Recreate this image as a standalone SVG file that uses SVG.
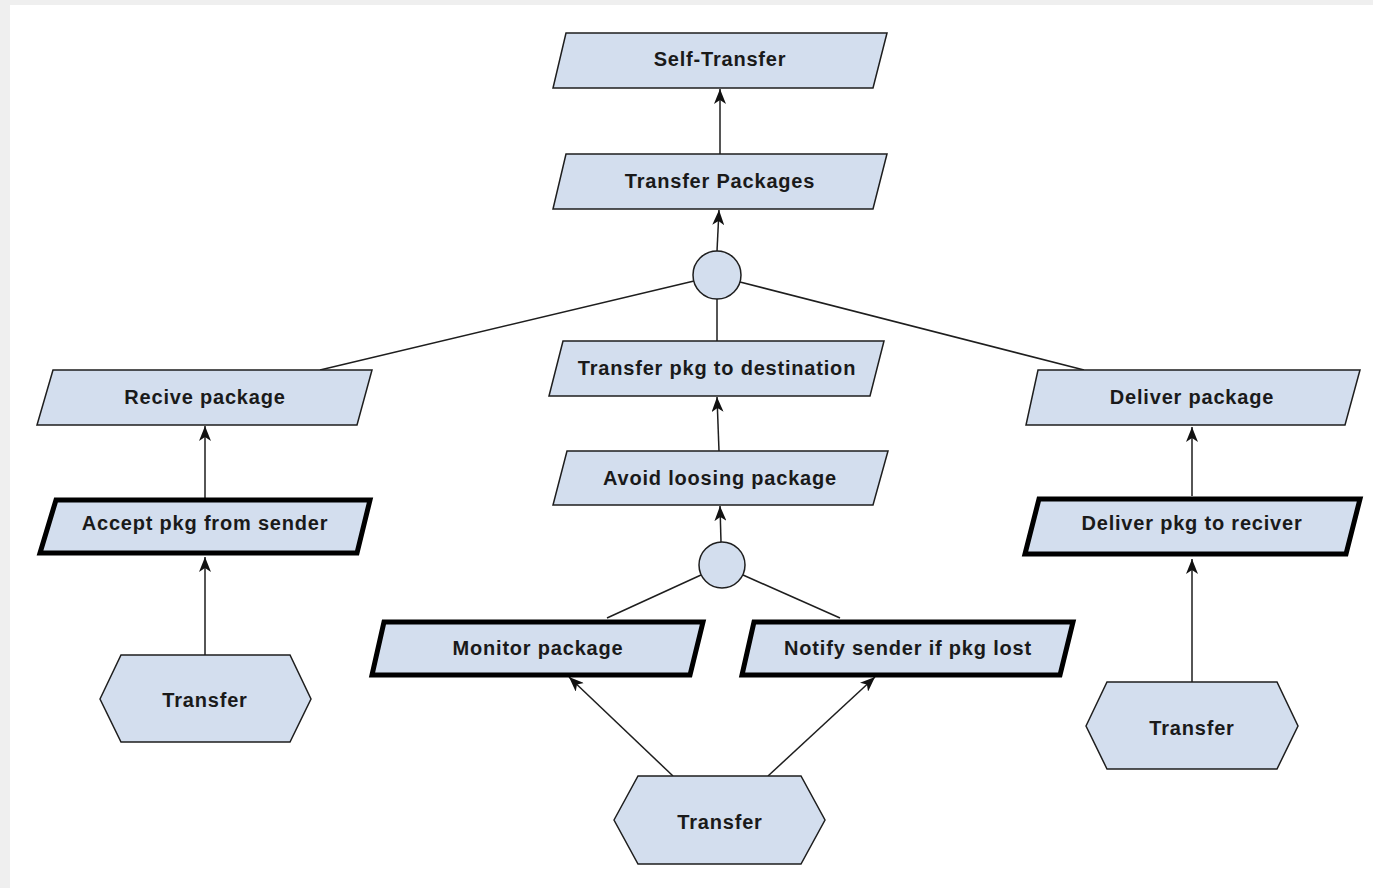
<svg xmlns="http://www.w3.org/2000/svg" width="1373" height="888" viewBox="0 0 1373 888">
<style>
.n{fill:#d3deee;stroke:#1e1e1e;stroke-width:1.5;stroke-linejoin:miter}
.t{fill:#d3deee;stroke:#000;stroke-width:5;stroke-linejoin:miter}
.c{fill:#d3deee;stroke:#1e1e1e;stroke-width:1.5}
.l{fill:none;stroke:#1e1e1e;stroke-width:1.5}
.a{fill:none;stroke:#1e1e1e;stroke-width:1.5;marker-end:url(#ah)}
text{font-family:"Liberation Sans",Arial,sans-serif;font-weight:bold;font-size:20px;letter-spacing:0.8px;fill:#1a1a1a;text-anchor:middle;dominant-baseline:central}
</style>
<defs>
<marker id="ah" markerUnits="userSpaceOnUse" markerWidth="16" markerHeight="12" viewBox="0 0 16 12" refX="15" refY="6" orient="auto">
<path d="M0,0 L15,6 L0,12 L4,6 z" fill="#111"/>
</marker>
</defs>
<rect x="0" y="0" width="1373" height="888" fill="#efefef"/>
<rect x="10" y="5" width="1363" height="883" fill="#fff"/>

<g id="connectors">
<line class="a" x1="720" y1="154" x2="720" y2="89"/>
<line class="a" x1="717" y1="251" x2="719" y2="210"/>
<line class="l" x1="694" y1="281" x2="320" y2="370"/>
<line class="l" x1="740" y1="282" x2="1084" y2="370"/>
<line class="l" x1="717" y1="299" x2="717" y2="341"/>
<line class="a" x1="719" y1="451" x2="717" y2="397"/>
<line class="a" x1="721" y1="542" x2="720" y2="506"/>
<line class="l" x1="701" y1="575" x2="607" y2="618"/>
<line class="l" x1="743" y1="575" x2="840" y2="618"/>
<line class="a" x1="673" y1="776" x2="569" y2="677"/>
<line class="a" x1="768" y1="776" x2="875" y2="677"/>
<line class="a" x1="205" y1="655" x2="205" y2="557"/>
<line class="a" x1="205" y1="498" x2="205" y2="426"/>
<line class="a" x1="1192" y1="682" x2="1192" y2="559"/>
<line class="a" x1="1192" y1="496" x2="1192" y2="427"/>
</g>

<g id="self-transfer">
<polygon class="n" points="566,33 887,33 873,88 553,88"/>
<text x="720" y="59">Self-Transfer</text>
</g>
<g id="transfer-packages">
<polygon class="n" points="566,154 887,154 873,209 553,209"/>
<text x="720" y="181">Transfer Packages</text>
</g>
<g id="and1">
<circle class="c" cx="717" cy="275" r="24"/>
</g>
<g id="recive-package">
<polygon class="n" points="53,370 372,370 357,425 37,425"/>
<text x="205" y="397">Recive package</text>
</g>
<g id="transfer-pkg-dest">
<polygon class="n" points="563,341 884,341 870,396 549,396"/>
<text x="717" y="368">Transfer pkg to destination</text>
</g>
<g id="deliver-package">
<polygon class="n" points="1038,370 1360,370 1345,425 1026,425"/>
<text x="1192" y="397">Deliver package</text>
</g>
<g id="avoid-loosing">
<polygon class="n" points="567,451 888,451 873,505 553,505"/>
<text x="720" y="478">Avoid loosing package</text>
</g>
<g id="and2">
<circle class="c" cx="722" cy="565" r="23"/>
</g>
<g id="accept-pkg">
<polygon class="t" points="56,500 370,500 357,553 40,553"/>
<text x="205" y="523">Accept pkg from sender</text>
</g>
<g id="deliver-pkg-reciver">
<polygon class="t" points="1039,499 1360,499 1346,554 1025,554"/>
<text x="1192" y="523">Deliver pkg to reciver</text>
</g>
<g id="monitor-package">
<polygon class="t" points="384,622 703,622 690,675 372,675"/>
<text x="538" y="648">Monitor package</text>
</g>
<g id="notify-sender">
<polygon class="t" points="754,622 1073,622 1060,675 742,675"/>
<text x="908" y="648">Notify sender if pkg lost</text>
</g>
<g id="transfer-left">
<polygon class="n" points="100,699 121,655 290,655 311,699 290,742 121,742"/>
<text x="205" y="700">Transfer</text>
</g>
<g id="transfer-center">
<polygon class="n" points="614,820 638,776 801,776 825,820 801,864 638,864"/>
<text x="720" y="822">Transfer</text>
</g>
<g id="transfer-right">
<polygon class="n" points="1086,726 1107,682 1277,682 1298,726 1277,769 1107,769"/>
<text x="1192" y="728">Transfer</text>
</g>
</svg>
